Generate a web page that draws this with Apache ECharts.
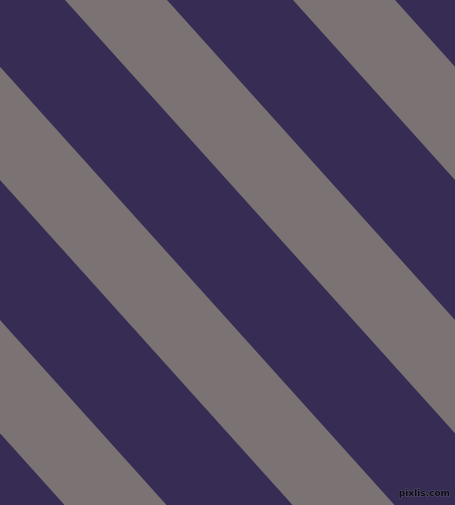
<!DOCTYPE html>
<html>
<head>
<meta charset="utf-8">
<script src="https://cdn.jsdelivr.net/npm/echarts@6/dist/echarts.min.js"></script>
<style>
  html, body { margin: 0; padding: 0; background: #372c54; }
  #c { width: 455px; height: 505px; }
</style>
</head>
<body>
<div id="c"></div>
<script>
// gray stripes: left / right edge on the top row (y = 0), in px of the picture
var stripeLeft  = [-390, -162, 65, 293]
var stripeRight = [-288, -60, 167, 395]
var slope = 0.9          // x shift per 1 px down
var yTop = 0
var yBottom = 505

var navy = '#372c54'
var gray = '#7b7373'

var stripes = stripeLeft.map(function (l, i) {
	return [l, stripeRight[i]]
})

var chart = echarts.init(document.getElementById('c'))

var option = {}
option.animation = false
option.backgroundColor = navy

option.grid = { left: 0, right: 0, top: 0, bottom: 0 }

option.xAxis = { type: 'value', min: 0, max: 455, show: false }
option.yAxis = { type: 'value', min: yTop, max: yBottom, inverse: true, show: false }

// watermark
option.title = {
	text: 'pixlis.com',
	right: 4,
	bottom: 6,
	padding: 0,
	z: 10,
	textStyle: {
		color: '#0e0b16',
		fontFamily: '"DejaVu Sans", sans-serif',
		fontSize: 9,
		fontWeight: 'bold',
		textBorderColor: '#57536b',
		textBorderWidth: 1
	}
}

option.series = [{
	type: 'custom',
	clip: true,
	data: stripes,
	renderItem: function (params, api) {
		var l = api.value(0)
		var r = api.value(1)
		var d = slope * (yBottom - yTop)
		var pts = [
			api.coord([l, yTop]),
			api.coord([r, yTop]),
			api.coord([r + d, yBottom]),
			api.coord([l + d, yBottom])
		]
		return {
			type: 'polygon',
			shape: { points: pts },
			style: { fill: gray }
		}
	}
}]

chart.setOption(option)
</script>
</body>
</html>
